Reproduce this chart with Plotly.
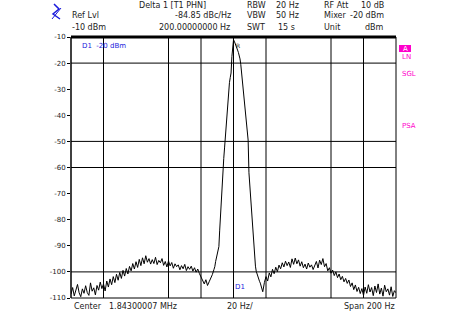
import plotly.graph_objects as go

# ---- data (frequency offset from centre in Hz, level in dBm) ----
freq_left = list(range(-100, -11))            # -100 .. -12 Hz
level_left = [
    -108.5, -106.0, -109.2, -107.1, -104.8, -108.0, -109.5, -106.5, -108.2, -105.3,
    -107.9, -109.0, -104.2, -107.4, -106.1, -108.8, -105.2, -107.0, -103.9, -106.4,
    -104.6, -107.3, -103.5, -105.8, -102.7, -104.9, -101.8, -104.1, -100.9, -103.2,
    -100.2, -102.5, -99.4, -101.6, -98.7, -100.8, -97.9, -99.6, -96.8, -98.9,
    -96.1, -98.3, -95.2, -97.6, -94.6, -96.9, -93.8, -96.3, -94.9, -97.0,
    -95.3, -96.8, -94.4, -97.2, -95.6, -96.5, -94.9, -97.5, -96.0, -98.1,
    -95.8, -97.7, -96.4, -98.6, -96.9, -98.0, -97.3, -99.2, -97.6, -98.8,
    -97.1, -99.5, -98.0, -99.0, -97.8, -99.7, -98.4, -100.1, -98.9, -100.6,
    -101.9, -103.4, -104.6, -103.0, -105.2, -103.8, -102.5, -101.0, -99.0,
]
freq_peak = [x / 2 for x in range(-23, 34)]  # -11.5 .. 16.5 Hz
level_peak = [
    -98.0, -96.0, -94.3, -93.0, -91.8, -90.3, -84.0, -77.5, -72.0, -67.0,
    -61.5, -56.5, -52.5, -48.0, -43.0, -38.5, -34.0, -30.5, -27.5, -25.5,
    -23.8, -17.5, -13.0, -11.1,
    -11.6, -12.3, -13.1, -14.0, -15.0, -15.9, -16.9, -18.4, -20.6, -23.6,
    -26.8, -29.6, -32.2, -36.4, -39.0, -41.2, -44.5, -49.5, -62.0, -67.0,
    -71.5, -76.8, -81.8, -87.0, -91.3, -94.8, -97.8, -99.8, -101.0, -102.0,
    -102.8, -103.6, -104.3,
]
freq_right = list(range(17, 101))             # 17 .. 100 Hz
level_right = [
    -105.5, -107.6, -104.1, -101.8, -103.5, -100.4, -101.9, -99.0, -100.7, -98.2,
    -99.9, -97.4, -98.8, -96.5, -98.1, -95.9, -97.6, -96.2, -98.3, -95.0,
    -97.1, -94.7, -96.9, -95.4, -97.8, -96.1, -98.4, -97.0, -98.9, -96.6,
    -98.2, -97.3, -99.1, -97.8, -96.0, -98.5, -95.5, -97.2, -94.9, -98.0,
    -96.8, -99.6, -98.4, -100.5, -99.3, -101.4, -100.0, -102.2, -100.8, -103.0,
    -101.7, -103.8, -102.5, -104.4, -103.1, -105.6, -104.2, -106.8, -105.0, -107.5,
    -105.9, -108.3, -106.4, -109.0, -105.8, -108.2, -104.9, -107.7, -106.0, -109.1,
    -105.4, -107.9, -104.6, -108.5, -106.2, -109.3, -105.1, -107.6, -106.5, -108.9,
    -105.7, -109.4, -107.2, -108.0,
]

y_ticks = [-10, -20, -30, -40, -50, -60, -70, -80, -90, -100, -110]
y_tick_labels = ["-10", "-20", "-30", "-40", "-50", "-60", "-70", "-80", "-90", "-100", "-110"]
grid_h = [-20, -50, -60, -100]
grid_v = [-80, -40, -20, 0, 20, 60, 80]

freqs = freq_left + freq_peak + freq_right
levels = level_left + level_peak + level_right

fig = go.Figure()
fig.add_trace(go.Scatter(x=freqs, y=levels, mode="lines",
                         line=dict(color="black", width=1), hoverinfo="skip"))

shapes = []
for g in grid_h:
    shapes.append(dict(type="line", xref="paper", x0=0, x1=1, yref="y", y0=g, y1=g,
                       line=dict(color="black", width=1)))
for g in grid_v:
    shapes.append(dict(type="line", yref="paper", y0=0, y1=1, xref="x", x0=g, x1=g,
                       line=dict(color="black", width=1)))
# frame
shapes.append(dict(type="line", xref="paper", x0=0, x1=1, yref="paper", y0=1, y1=1,
                   line=dict(color="black", width=3)))
shapes.append(dict(type="line", xref="paper", x0=0, x1=1, yref="paper", y0=0, y1=0,
                   line=dict(color="black", width=1)))
shapes.append(dict(type="line", xref="paper", x0=0, x1=0, yref="paper", y0=0, y1=1,
                   line=dict(color="black", width=1.5)))
shapes.append(dict(type="line", xref="paper", x0=1, x1=1, yref="paper", y0=0, y1=1,
                   line=dict(color="black", width=1)))

# pixel -> paper helpers for decorations
L, R, T, B = 71, 396, 37, 298
def px(x):
    return (x - L) / (R - L)
def py(y):
    return (B - y) / (B - T)

# logo (blue zigzag)
shapes.append(dict(type="path", xref="paper", yref="paper",
                   path=f"M {px(54)} {py(4)} L {px(59)} {py(9)} L {px(53)} {py(14)} L {px(60)} {py(19)}",
                   line=dict(color="#1a1adc", width=1.5)))
shapes.append(dict(type="line", xref="paper", yref="paper",
                   x0=px(52), y0=py(19), x1=px(61), y1=py(8),
                   line=dict(color="#1a1adc", width=1)))
# magenta box on right
shapes.append(dict(type="rect", xref="paper", yref="paper",
                   x0=px(399), x1=px(411), y0=py(52), y1=py(45),
                   fillcolor="#ff00cc", line=dict(width=0)))

FONT = "DejaVu Sans"
TXT = "#222222"
ann = []
def t(x, y, s, color=TXT, size=8, anchor="left"):
    ann.append(dict(x=px(x), y=py(y), xref="paper", yref="paper", text=s,
                    showarrow=False, xanchor=anchor, yanchor="middle",
                    font=dict(family=FONT, size=size, color=color)))

t(70, 16, "Ref Lvl")
t(70, 28, "-10 dBm")
t(137, 5, "Delta 1 [T1 PHN]")
t(233, 16, "-84.85 dBc/Hz", anchor="right")
t(157, 28, "200.00000000 Hz")
t(245, 5, "RBW")
t(245, 16, "VBW")
t(245, 28, "SWT")
t(301, 5, "20 Hz", anchor="right")
t(301, 16, "50 Hz", anchor="right")
t(297, 28, "15 s", anchor="right")
t(322, 5, "RF Att")
t(322, 16, "Mixer")
t(322, 28, "Unit")
t(386, 5, "10 dB", anchor="right")
t(386, 16, "-20 dBm", anchor="right")
t(386, 28, "dBm", anchor="right")
t(405, 49, "A", color="white", size=7, anchor="center")
t(400, 57, "LN", color="#ff00cc", size=7)
t(400, 74, "SGL", color="#ff00cc", size=7)
t(400, 126, "PSA", color="#ff00cc", size=7)
t(80, 46, "D1  -20 dBm", color="#1a1adc", size=7)
t(234, 45, "R", size=6)
t(233, 287, "D1", color="#1a1adc", size=7)
t(72, 306, "Center")
t(107, 306, "1.84300007 MHz")
t(225, 306, "20 Hz/")
t(397, 306, "Span 200 Hz", anchor="right")

fig.update_layout(
    width=475, height=313,
    margin=dict(l=L, r=475 - R, t=T, b=313 - B),
    paper_bgcolor="white", plot_bgcolor="white",
    showlegend=False,
    shapes=shapes, annotations=ann,
    xaxis=dict(range=[-100, 100], showgrid=False, zeroline=False, showline=False,
               showticklabels=False, ticks=""),
    yaxis=dict(range=[-110, -10], showgrid=False, zeroline=False, showline=False,
               tickvals=y_ticks, ticktext=y_tick_labels, ticks="outside", ticklen=3,
               tickcolor="black", tickfont=dict(family=FONT, size=7, color=TXT)),
)

fig.write_html("out.html")
